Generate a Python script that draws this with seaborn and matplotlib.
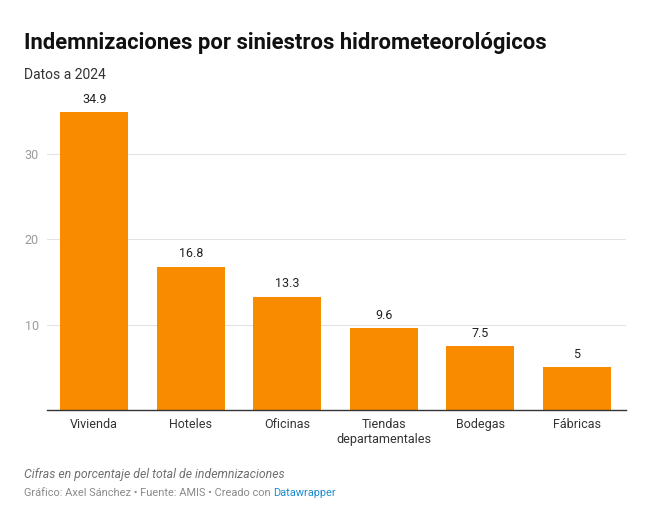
import matplotlib
matplotlib.use("Agg")
import matplotlib.pyplot as plt
import seaborn as sns
import pandas as pd

categorias = ["Vivienda", "Hoteles", "Oficinas", "Tiendas\ndepartamentales", "Bodegas", "Fábricas"]
valores = [34.9, 16.8, 13.3, 9.6, 7.5, 5]
etiquetas = ["34.9", "16.8", "13.3", "9.6", "7.5", "5"]
ticks_y = [10, 20, 30]

df = pd.DataFrame({"categoria": categorias, "valor": valores})

sns.set_style("white")
plt.rcParams["font.family"] = ["Roboto", "DejaVu Sans"]

fig = plt.figure(figsize=(6.48, 5.25), dpi=100)
ax = fig.add_axes([0.0725, 0.219, 0.8935, 0.601])

sns.barplot(data=df, x="categoria", y="valor", color="#f98b00", width=0.7,
            saturation=1, linewidth=0, ax=ax, zorder=3)

for i, (v, t) in enumerate(zip(valores, etiquetas)):
    ax.text(i, v + 0.75, t, ha="center", va="bottom", fontsize=9, color="#222222")

ax.set_xlim(-0.49, 5.51)
ax.set_ylim(0, 37)
ax.set_yticks(ticks_y)
ax.set_yticklabels([str(t) for t in ticks_y], color="#9a9a9a", fontsize=9)
ax.yaxis.grid(True, color="#e3e3e3", linewidth=0.8, zorder=0)
ax.tick_params(axis="y", length=0, pad=6)
ax.tick_params(axis="x", length=0, pad=6, labelsize=9, labelcolor="#333333")
ax.set_xlabel("")
ax.set_ylabel("")
for s in ["top", "right", "left"]:
    ax.spines[s].set_visible(False)
ax.spines["bottom"].set_color("#333333")
ax.spines["bottom"].set_linewidth(1)
ax.spines["bottom"].set_zorder(4)

fig.text(0.037, 0.918, "Indemnizaciones por siniestros hidrometeorológicos",
         fontsize=15.8, fontweight="bold", color="#111111", va="center")
fig.text(0.037, 0.857, "Datos a 2024", fontsize=10, color="#333333", va="center")
fig.text(0.037, 0.097, "Cifras en porcentaje del total de indemnizaciones",
         fontsize=8.8, style="italic", color="#6f6f6f", va="center")
t1 = fig.text(0.037, 0.060, "Gráfico: Axel Sánchez • Fuente: AMIS • Creado con ",
              fontsize=7.9, color="#8a8a8a", va="center")
fig.canvas.draw()
bb = t1.get_window_extent().transformed(fig.transFigure.inverted())
fig.text(bb.x1, 0.060, "Datawrapper", fontsize=7.9, color="#1d8ccf", va="center")

fig.savefig("out.png", dpi=100, facecolor="white")
